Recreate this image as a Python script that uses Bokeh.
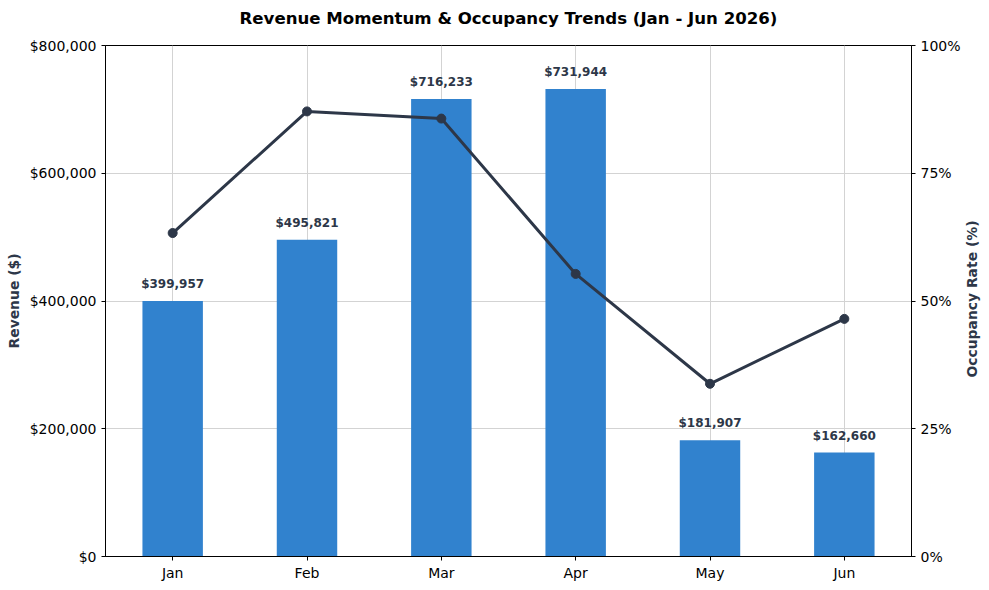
import math
from bokeh.plotting import figure
from bokeh.models import (ColumnDataSource, Range1d, LinearAxis, FixedTicker, Title,
                          NumeralTickFormatter, PrintfTickFormatter, FactorRange)
from bokeh.core.properties import value
from bokeh.embed import file_html
from bokeh.resources import INLINE

months = ["Jan", "Feb", "Mar", "Apr", "May", "Jun"]
revenue = [399957, 495821, 716233, 731944, 181907, 162660]
occupancy = [63.3, 87.1, 85.7, 55.3, 33.8, 46.5]
revenue_ticks = [0, 200000, 400000, 600000, 800000]
occupancy_ticks = [0, 25, 50, 75, 100]

labels = ["${:,}".format(v) for v in revenue]
src = ColumnDataSource(dict(month=months, revenue=revenue, occ=occupancy, label=labels))

FONT = "DejaVu Sans"
DARK = "#2d3748"

p = figure(x_range=FactorRange(*months, range_padding=0), y_range=Range1d(0, 800000),
           frame_width=806, frame_height=511, output_backend="svg", toolbar_location=None,
           min_border_left=105, min_border_right=78, min_border_top=45, min_border_bottom=30)
p.extra_y_ranges = {"occ": Range1d(0, 100)}

# spacer closest to the frame, real title above it
p.title = None
p.add_layout(Title(text=" ", text_font=FONT, text_font_size="14px", standoff=0), "above")
p.add_layout(Title(text="Revenue Momentum & Occupancy Trends (Jan - Jun 2026)", align="center",
                   standoff=0, text_font=FONT, text_font_size="16.6px",
                   text_font_style="bold", text_color="black"), "above")

p.vbar(x="month", top="revenue", width=0.45, source=src, color="#3182ce", line_color=None)
p.text(x="month", y="revenue", text="label", source=src, text_align="center",
       text_baseline="alphabetic", y_offset=-17, text_font=value(FONT),
       text_font_size="12px", text_font_style="bold", text_color=DARK)

p.line(x="month", y="occ", source=src, y_range_name="occ", line_color=DARK, line_width=3)
p.scatter(x="month", y="occ", source=src, y_range_name="occ", size=9,
          fill_color=DARK, line_color=DARK)

right = LinearAxis(y_range_name="occ", ticker=FixedTicker(ticks=occupancy_ticks),
                   formatter=PrintfTickFormatter(format="%d%%"),
                   axis_label="\u00a0" * 37 + "Occupancy Rate (%)")
right.axis_label_orientation = math.pi / 2
right.axis_label_align = "start"
p.add_layout(right, "right")

p.yaxis[0].ticker = FixedTicker(ticks=revenue_ticks)
p.yaxis[0].formatter = NumeralTickFormatter(format="$0,0")
p.yaxis[0].axis_label = "Revenue ($)"

for ax in p.axis:
    ax.major_label_text_font = FONT
    ax.major_label_text_font_size = "14px"
    ax.major_label_text_color = "black"
    ax.axis_label_text_font = FONT
    ax.axis_label_text_font_size = "13.9px"
    ax.axis_label_text_font_style = "bold"
    ax.axis_label_text_color = DARK
    ax.axis_line_color = "black"
    ax.major_tick_line_color = "black"
    ax.major_tick_in = 0
    ax.major_tick_out = 4
    ax.minor_tick_line_color = None
    ax.major_label_standoff = 5

right.axis_label_standoff = 8
p.xaxis[0].major_label_standoff = 4

p.xgrid.grid_line_color = "#d3d3d3"
p.ygrid.grid_line_color = "#d3d3d3"
p.outline_line_color = "black"
p.outline_line_alpha = 1

open("out.html", "w").write(file_html(p, INLINE))
